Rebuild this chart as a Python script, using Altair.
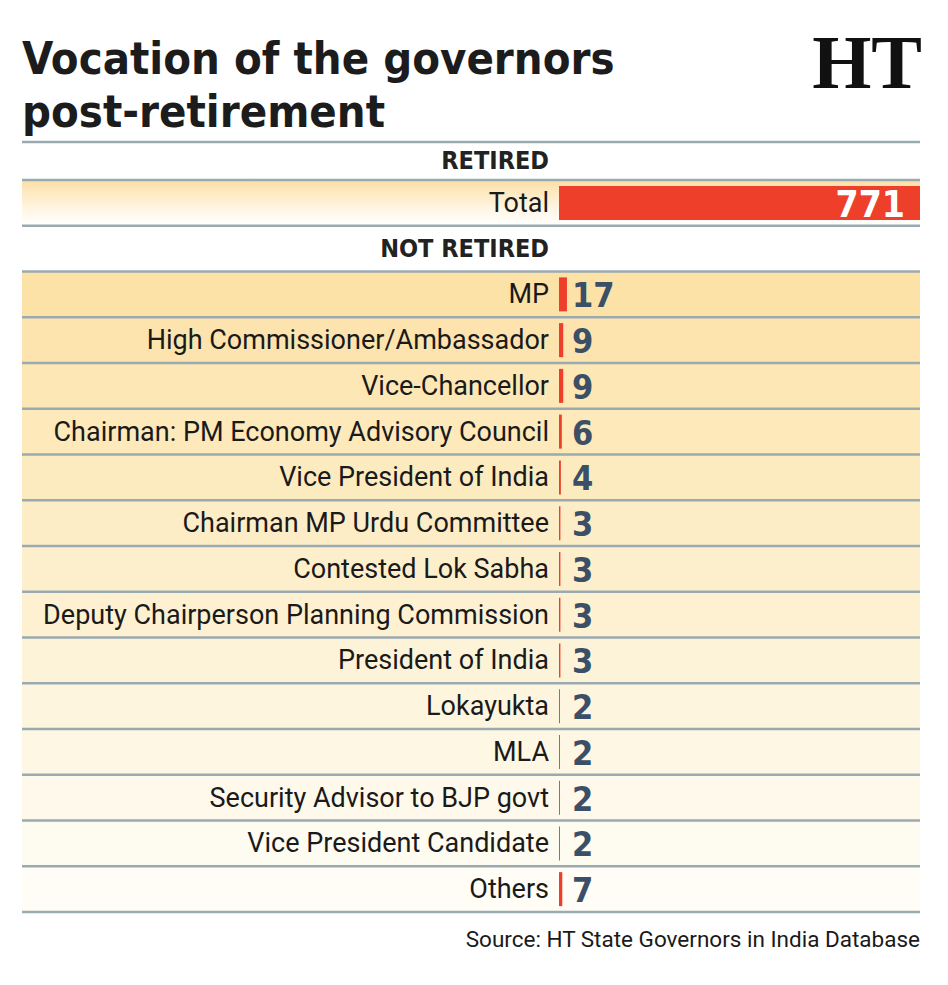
import altair as alt
import pandas as pd

# Governors who retired after their term
retired_label = "Total"
retired_count = 771

# Governors who took up another post
roles = [
    "MP",
    "High Commissioner/Ambassador",
    "Vice-Chancellor",
    "Chairman: PM Economy Advisory Council",
    "Vice President of India",
    "Chairman MP Urdu Committee",
    "Contested Lok Sabha",
    "Deputy Chairperson Planning Commission",
    "President of India",
    "Lokayukta",
    "MLA",
    "Security Advisor to BJP govt",
    "Vice President Candidate",
    "Others",
]
role_counts = [17, 9, 9, 6, 4, 3, 3, 3, 3, 2, 2, 2, 2, 7]

title_lines = ["Vocation of the governors", "post-retirement"]
header_retired = "RETIRED"
header_not_retired = "NOT RETIRED"
source_note = "Source: HT State Governors in India Database"

row_order = [retired_label, header_not_retired] + roles

bars = pd.DataFrame({
    "row": [retired_label] + roles,
    "value": [retired_count] + role_counts,
})
role_rows = pd.DataFrame({"row": roles, "order": list(range(len(roles)))})
all_rows = pd.DataFrame({"row": row_order})

W, H = 898, 732
LABEL_FONT = "Roboto"
COND_FONT = "'DejaVu Sans Condensed', 'Liberation Sans Narrow', Roboto"
RED = "#ee3f2a"
LINE = "#9aaab1"

yscale = alt.Scale(domain=row_order, paddingInner=0, paddingOuter=0)
Y = alt.Y("row:N", scale=yscale, axis=None)
xscale = alt.Scale(domain=[0, retired_count], range=[537, W], nice=False, zero=True)
X = alt.X("value:Q", scale=xscale, axis=None)

# shaded backgrounds for the not-retired rows, fading downwards
bg = alt.Chart(role_rows).mark_rect().encode(
    y=Y,
    x=alt.value(0), x2=alt.value(W),
    color=alt.Color("order:Q", scale=alt.Scale(range=["#fde2a8", "#fffdf6"]), legend=None),
)

total_bg = alt.Chart(pd.DataFrame({"row": [retired_label]})).mark_rect(
    color=alt.Gradient(
        gradient="linear",
        stops=[alt.GradientStop(color="#fddfa6", offset=0),
               alt.GradientStop(color="#fff8ea", offset=0.7),
               alt.GradientStop(color="#ffffff", offset=1)],
        x1=0, x2=0, y1=0, y2=1,
    )
).encode(y=Y, x=alt.value(0), x2=alt.value(W))

rules_bottom = alt.Chart(all_rows).mark_rule(color=LINE, strokeWidth=2.5).encode(
    y=alt.Y("row:N", scale=yscale, axis=None, bandPosition=1),
    x=alt.value(0), x2=alt.value(W),
)
rule_top = alt.Chart(pd.DataFrame({"row": [retired_label]})).mark_rule(color=LINE, strokeWidth=2.5).encode(
    y=alt.Y("row:N", scale=yscale, axis=None, bandPosition=0),
    x=alt.value(0), x2=alt.value(W),
)
rule_header = alt.Chart(pd.DataFrame({"row": [retired_label]})).mark_rule(color=LINE, strokeWidth=2.5).encode(
    y=alt.value(-38), x=alt.value(0), x2=alt.value(W),
)

bar_layer = alt.Chart(bars).mark_bar(size=34, color=RED).encode(x=X, y=Y)

labels = alt.Chart(bars).mark_text(
    align="right", baseline="middle", font=LABEL_FONT, fontSize=27, color="#1a1a1a", dy=1
).encode(y=Y, x=alt.value(527), text="row:N")

values = alt.Chart(bars[bars["row"] != retired_label]).mark_text(
    align="left", baseline="middle", font=COND_FONT, fontWeight="bold", fontSize=34,
    color="#3b4f66", dy=3
).encode(y=Y, x=alt.value(550), text="value:Q")

total_value = alt.Chart(bars[bars["row"] == retired_label]).mark_text(
    align="right", baseline="middle", font=COND_FONT, fontWeight="bold", fontSize=37,
    color="white", dx=-15, dy=3
).encode(y=Y, x=X, text="value:Q")

head_nr = alt.Chart(pd.DataFrame({"row": [header_not_retired]})).mark_text(
    align="right", baseline="middle", font=COND_FONT, fontWeight="bold", fontSize=25, color="#222222"
).encode(y=Y, x=alt.value(527), text="row:N")

head_r = alt.Chart(pd.DataFrame({"t": [header_retired]})).mark_text(
    align="right", baseline="middle", font=COND_FONT, fontWeight="bold", fontSize=25, color="#222222"
).encode(y=alt.value(-19), x=alt.value(527), text="t:N")

title_style = dict(align="left", baseline="alphabetic", font=COND_FONT, fontWeight="bold",
                   fontSize=45, color="#1c1c1c")
title1 = alt.Chart(pd.DataFrame({"t": [title_lines[0]]})).mark_text(**title_style).encode(
    x=alt.value(0), y=alt.value(-106), text="t:N")
title2 = alt.Chart(pd.DataFrame({"t": [title_lines[1]]})).mark_text(**title_style).encode(
    x=alt.value(0), y=alt.value(-53), text="t:N")

logo = alt.Chart(pd.DataFrame({"t": ["HT"]})).mark_text(
    align="right", baseline="alphabetic", font="Liberation Serif", fontWeight="bold",
    fontSize=76, color="#111111"
).encode(x=alt.value(W + 2), y=alt.value(-92), text="t:N")

source = alt.Chart(pd.DataFrame({"t": [source_note]})).mark_text(
    align="right", baseline="alphabetic", font=LABEL_FONT, fontSize=22.5, color="#1a1a1a"
).encode(x=alt.value(W), y=alt.value(767), text="t:N")

chart = alt.layer(
    bg, total_bg, rules_bottom, rule_top, rule_header, bar_layer,
    labels, values, total_value, head_nr, head_r, title1, title2, logo, source,
).properties(
    width=W, height=H,
    autosize=alt.AutoSizeParams(type="none"),
    padding={"left": 22, "top": 180, "right": 28, "bottom": 73},
    background="white",
).configure_view(stroke=None)

chart.save("out.html", embed_options={"renderer": "svg", "actions": False})
